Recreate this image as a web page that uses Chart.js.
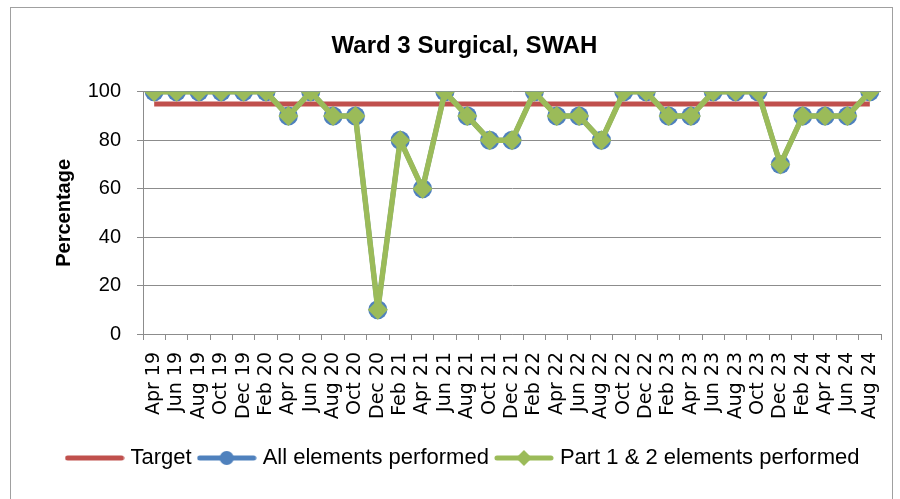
<!DOCTYPE html>
<html>
<head>
<meta charset="utf-8">
<script src="https://cdn.jsdelivr.net/npm/chart.js@4.4.1/dist/chart.umd.min.js"></script>
<style>
  body { margin: 0; background: #fff; }
</style>
</head>
<body>
<canvas id="graph" width="900" height="499"></canvas>
<script>
var months = ['Apr 19', 'Jun 19', 'Aug 19', 'Oct 19', 'Dec 19', 'Feb 20', 'Apr 20', 'Jun 20', 'Aug 20', 'Oct 20',
  'Dec 20', 'Feb 21', 'Apr 21', 'Jun 21', 'Aug 21', 'Oct 21', 'Dec 21', 'Feb 22', 'Apr 22', 'Jun 22', 'Aug 22',
  'Oct 22', 'Dec 22', 'Feb 23', 'Apr 23', 'Jun 23', 'Aug 23', 'Oct 23', 'Dec 23', 'Feb 24', 'Apr 24', 'Jun 24', 'Aug 24'];
var target = [95, 95, 95, 95, 95, 95, 95, 95, 95, 95, 95, 95, 95, 95, 95, 95, 95, 95, 95, 95, 95,
  95, 95, 95, 95, 95, 95, 95, 95, 95, 95, 95, 95];
var allElements = [100, 100, 100, 100, 100, 100, 90, 100, 90, 90, 10, 80, 60, 100, 90, 80, 80, 100, 90, 90, 80,
  100, 100, 90, 90, 100, 100, 100, 70, 90, 90, 90, 100];
var part12 = [100, 100, 100, 100, 100, 100, 90, 100, 90, 90, 10, 80, 60, 100, 90, 80, 80, 100, 90, 90, 80,
  100, 100, 90, 90, 100, 100, 100, 70, 90, 90, 90, 100];

var RED = '#C0504D', BLUE = '#4F81BD', GREEN = '#9BBB59', GRID = '#8C8C8C';

// little line + marker picture for the legend
function legendSample(color, marker) {
  var c = document.createElement('canvas');
  c.width = 60; c.height = 18;
  var g = c.getContext('2d');
  g.strokeStyle = color; g.lineWidth = 5; g.lineCap = 'round';
  g.beginPath(); g.moveTo(3, 9); g.lineTo(57, 9); g.stroke();
  g.fillStyle = color;
  if (marker == 'circle') {
    g.beginPath(); g.arc(30, 9, 7, 0, Math.PI * 2); g.fill();
  } else if (marker == 'diamond') {
    g.beginPath(); g.moveTo(30, 1); g.lineTo(38, 9); g.lineTo(30, 17); g.lineTo(22, 9); g.closePath(); g.fill();
  }
  return c;
}
var samples = [legendSample(GREEN, 'diamond'), legendSample(BLUE, 'circle'), legendSample(RED, null)];

var frame = {
  id: 'frame',
  beforeDraw: function(chart) {
    var ctx = chart.ctx;
    ctx.save();
    ctx.fillStyle = '#fff';
    ctx.fillRect(0, 0, chart.width, chart.height);
    ctx.strokeStyle = '#A0A0A0';
    ctx.lineWidth = 1;
    ctx.strokeRect(10.5, 7.5, 882, 520);
    ctx.restore();
  }
};

var context = document.querySelector('#graph').getContext('2d');
var chart = new Chart(context, {
  type: 'line',
  data: {
    labels: months,
    datasets: [{
      label: 'Part 1 & 2 elements performed',
      data: part12,
      borderColor: GREEN,
      backgroundColor: GREEN,
      borderWidth: 5.5,
      borderJoinStyle: 'round',
      pointStyle: 'rectRot',
      pointRadius: 10,
      pointBorderWidth: 0,
      tension: 0
    }, {
      label: 'All elements performed',
      data: allElements,
      borderColor: BLUE,
      backgroundColor: BLUE,
      borderWidth: 5,
      borderJoinStyle: 'round',
      pointStyle: 'circle',
      pointRadius: 9.5,
      pointBorderWidth: 0,
      tension: 0
    }, {
      label: 'Target',
      data: target,
      borderColor: RED,
      backgroundColor: RED,
      borderWidth: 5,
      pointRadius: 0,
      tension: 0
    }]
  },
  options: {
    responsive: false,
    animation: false,
    layout: { padding: { left: 48, right: 19, top: 22, bottom: 20 } },
    plugins: {
      tooltip: { enabled: false },
      title: {
        display: true,
        text: 'Ward 3 Surgical, SWAH',
        color: '#000',
        font: { family: 'Liberation Sans', size: 24, weight: 'bold' },
        padding: { top: 10, bottom: 31 }
      },
      legend: {
        position: 'bottom',
        reverse: true,
        labels: {
          color: '#000',
          font: { family: 'Liberation Sans', size: 22 },
          usePointStyle: true,
          pointStyleWidth: 50,
          boxWidth: 50,
          boxHeight: 18,
          padding: 10,
          generateLabels: function(chart) {
            var items = Chart.defaults.plugins.legend.labels.generateLabels(chart);
            items.forEach(function(item) {
              item.pointStyle = samples[item.datasetIndex];
            });
            return items;
          }
        }
      }
    },
    scales: {
      x: {
        offset: true,
        afterFit: function(scale) {
          scale.height = 103;
          scale.paddingLeft = 0;
          scale.paddingRight = 0;
        },
        grid: { offset: true, drawOnChartArea: false, color: GRID, tickLength: 6 },
        border: { color: GRID, width: 1 },
        ticks: {
          color: '#000',
          autoSkip: false,
          maxRotation: 90,
          minRotation: 90,
          padding: 12,
          font: { family: 'DejaVu Sans', size: 19 }
        }
      },
      y: {
        min: 0,
        max: 100,
        afterFit: function(scale) { scale.width = 95; },
        grid: { color: GRID, tickLength: 6 },
        border: { color: GRID, width: 1 },
        ticks: {
          stepSize: 20,
          color: '#000',
          padding: 16,
          font: { family: 'Liberation Sans', size: 20 }
        },
        title: {
          display: true,
          text: 'Percentage',
          color: '#000',
          font: { family: 'Liberation Sans', size: 20, weight: 'bold' },
          padding: 4
        }
      }
    }
  },
  plugins: [frame]
});
</script>
</body>
</html>
